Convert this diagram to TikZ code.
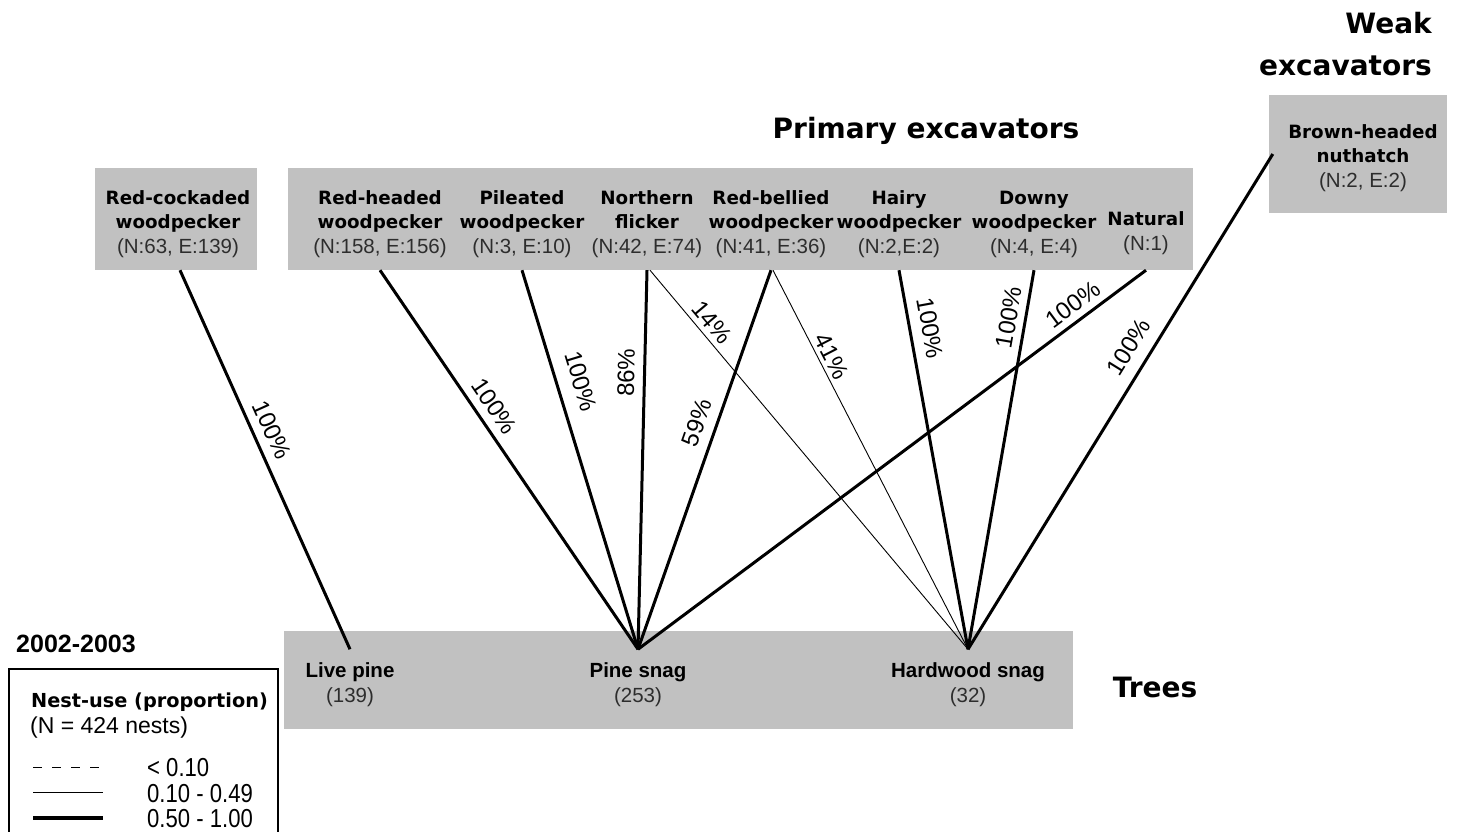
\documentclass[tikz,border=0pt]{standalone}
\usepackage{fontspec}
\setmainfont{Liberation Sans}
\newfontfamily\vfont{DejaVu Sans}
\definecolor{boxgray}{RGB}{193,193,193}
\definecolor{numgray}{RGB}{45,45,45}

\tikzset{
  box/.style={fill=boxgray, draw=none, inner sep=0pt},
  spec/.style={align=center, inner sep=0pt, minimum height=92pt,
    font=\vfont\bfseries\fontsize{18.3}{24.5}\selectfont},
  tree/.style={align=center, inner xsep=0pt, inner ysep=13pt,
    font=\bfseries\fontsize{20.5}{25}\selectfont},
  head/.style={inner sep=0pt, font=\vfont\bfseries\fontsize{28}{42}\selectfont},
  strong/.style={line width=3pt},
  weak/.style={line width=0.9pt},
  pct/.style={sloped, inner sep=0pt, font=\fontsize{24}{26}\selectfont},
  legtxt/.style={inner sep=0pt, anchor=base west},
}
\newcommand\cnt[1]{{\normalfont\fontsize{20.5}{24.5}\selectfont\color{numgray}#1}}

\begin{document}
\begin{tikzpicture}[x=1pt, y=-1pt]
\useasboundingbox (0,0) rectangle (1457,831);

% grey panels
\node[box, minimum width=162pt, minimum height=102pt] (rcw) at (176,219) {};
\node[box, minimum width=905pt, minimum height=102pt] (pbox) at (740.5,219) {};
\node[box, minimum width=178pt, minimum height=118pt] (bhnbox) at (1358,154) {};
\node[box, minimum width=789pt, minimum height=98pt] (tbox) at (678.5,680) {};

% group headings
\node[head, anchor=base] (hprim) at (926,138) {Primary excavators};
\node[head, align=right, anchor=east] (hweak) at (1432,44.5) {Weak\\excavators};
\node[head, anchor=base] (htrees) at (1155,697) {Trees};

% excavators
\node[spec] (rcwt) at (178,224) {Red-cockaded\\woodpecker\\\cnt{(N:63, E:139)}};
\node[spec] (rh) at (380,224) {Red-headed\\woodpecker\\\cnt{(N:158, E:156)}};
\node[spec] (pw) at (522,224) {Pileated\\woodpecker\\\cnt{(N:3, E:10)}};
\node[spec] (nf) at (647,224) {Northern\\flicker\\\cnt{(N:42, E:74)}};
\node[spec] (rb) at (771,224) {Red-bellied\\woodpecker\\\cnt{(N:41, E:36)}};
\node[spec] (hw) at (899,224) {Hairy\\woodpecker\\\cnt{(N:2,E:2)}};
\node[spec] (dw) at (1034,224) {Downy\\woodpecker\\\cnt{(N:4, E:4)}};
\node[spec, minimum height=74pt] (nat) at (1146,233) {Natural\\\cnt{(N:1)}};
\node[spec, minimum height=10pt] (bhn) at (1363,158) {Brown-headed\\nuthatch\\\cnt{(N:2, E:2)}};

% tree types
\node[tree] (lp) at (350,684.5) {Live pine\\\cnt{(139)}};
\node[tree] (ps) at (638,684.5) {Pine snag\\\cnt{(253)}};
\node[tree] (hs) at (968,684.5) {Hardwood snag\\\cnt{(32)}};

% nest-use links
\draw[strong] ([xshift=4pt]rcw.south) -- node[pct, pos=0.441, yshift=18.6pt] (l1) {100\%} (lp.north);
\draw[strong] (rh.south) -- node[pct, pos=0.386, yshift=17.8pt] (l2) {100\%} (ps.north);
\draw[strong] (pw.south) -- node[pct, pos=0.311, yshift=24pt] (l3) {100\%} (ps.north);
\draw[strong] (nf.south) -- node[pct, pos=0.271, yshift=18.5pt] (l4) {86\%} (ps.north);
\draw[weak] ([xshift=3pt]nf.south) -- node[pct, pos=0.161, yshift=14pt] (l5) {14\%} (hs.north);
\draw[strong] (rb.south) -- node[pct, pos=0.419, yshift=19.3pt] (l6) {59\%} (ps.north);
\draw[weak] ([xshift=2pt]rb.south) -- node[pct, pos=0.243, yshift=12.8pt] (l7) {41\%} (hs.north);
\draw[strong] (hw.south) -- node[pct, pos=0.163, yshift=20.5pt] (l8) {100\%} (hs.north);
\draw[strong] (dw.south) -- node[pct, pos=0.132, yshift=16.5pt] (l9) {100\%} (hs.north);
\draw[strong] (nat.south) -- node[pct, pos=0.125, yshift=16.4pt] (l10) {100\%} (ps.north);
\draw[strong] ([xshift=4pt]bhnbox.west) -- node[pct, pos=0.413, yshift=21.8pt] (l11) {100\%} (hs.north);

% legend
\node[legtxt, font=\bfseries\fontsize{25}{28}\selectfont] (years) at (16,652) {2002-2003};
\draw[line width=1.3pt] (9,840) |- (278,669) -- (278,840);
\node[legtxt, font=\vfont\bfseries\fontsize{19.3}{22}\selectfont] (ltitle) at (31,707) {Nest-use (proportion)};
\node[legtxt, font=\fontsize{23}{26}\selectfont] (lsub) at (30,733) {(N = 424 nests)};
\draw[line width=1pt, dash pattern=on 9pt off 10pt] (33,767) -- (103,767);
\draw[line width=1pt] (33,792) -- (103,792);
\draw[line width=4pt] (33,818) -- (103,818);
\node[legtxt, font=\fontsize{26}{28}\selectfont] (k1) at (147,776) {\scalebox{0.85}[1]{< 0.10}};
\node[legtxt, font=\fontsize{26}{28}\selectfont] (k2) at (147,802) {\scalebox{0.85}[1]{0.10 - 0.49}};
\node[legtxt, font=\fontsize{26}{28}\selectfont] (k3) at (147,827) {\scalebox{0.85}[1]{0.50 - 1.00}};
\end{tikzpicture}
\end{document}
